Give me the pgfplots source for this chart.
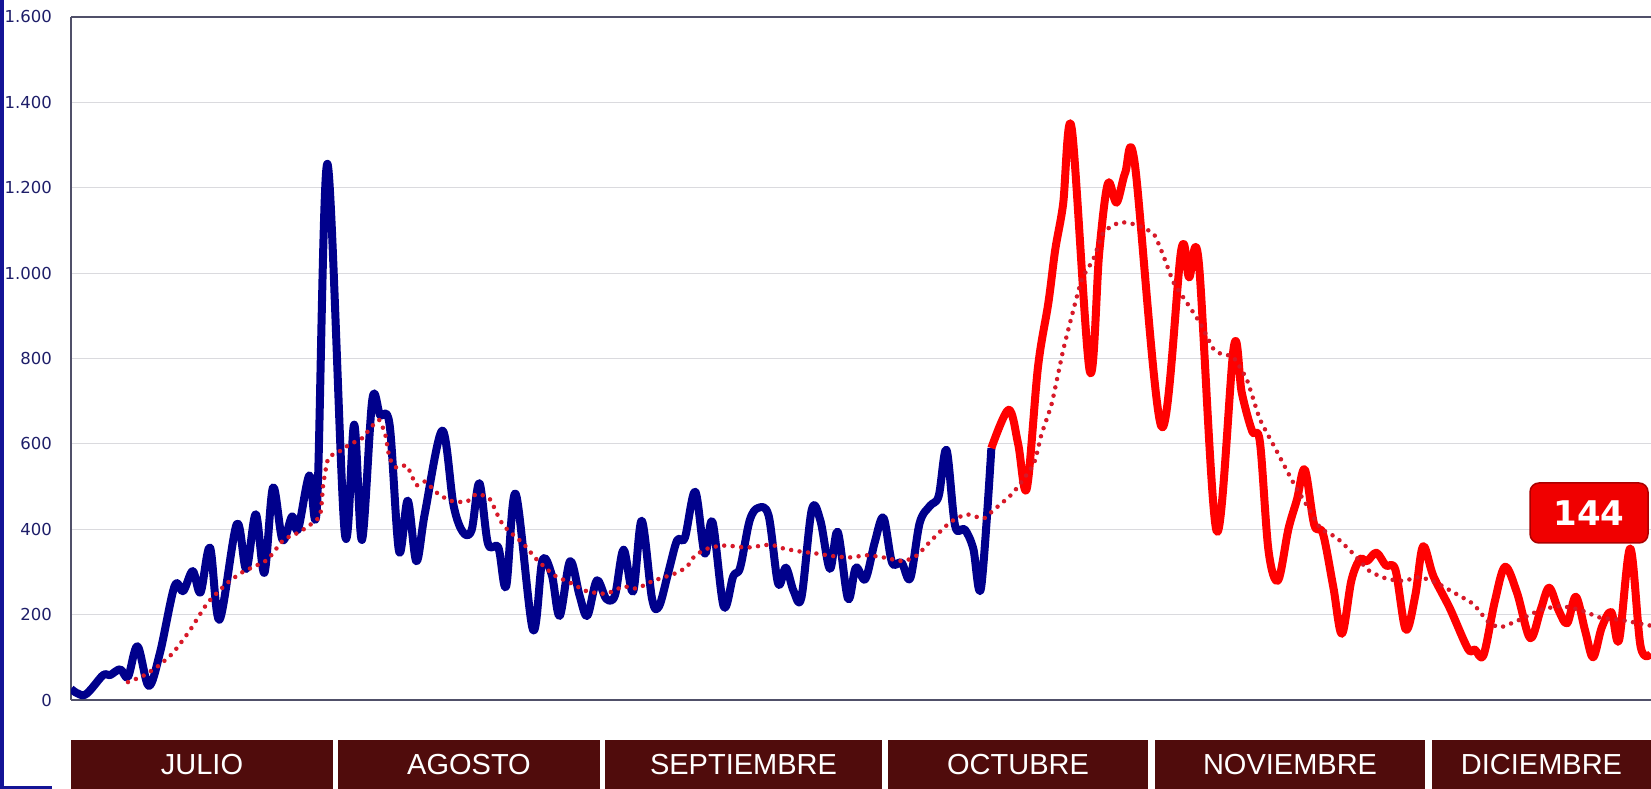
\documentclass[border=0pt]{standalone}
\usepackage{fontspec}
\setmainfont{Liberation Sans}
\newfontfamily\tickfont{DejaVu Sans}
\usepackage{pgfplots}
\pgfplotsset{compat=1.18}
\definecolor{navyline}{RGB}{0,0,140}
\definecolor{redline}{RGB}{255,0,0}
\definecolor{dotred}{RGB}{215,25,40}
\definecolor{gridgray}{RGB}{218,218,222}
\definecolor{ticknavy}{RGB}{30,30,105}
\definecolor{monthbox}{RGB}{80,12,12}
\definecolor{navybar}{RGB}{20,20,150}
\definecolor{axisgray}{RGB}{80,80,105}
\definecolor{labred}{RGB}{240,0,0}
\definecolor{labdark}{RGB}{170,0,0}
\begin{document}
\begin{tikzpicture}
\path[use as bounding box] (0,0) rectangle (1651pt,789pt);
\begin{axis}[
  at={(71pt,89pt)}, anchor=south west,
  scale only axis, width=1580pt, height=683pt,
  xmin=0, xmax=183, ymin=0, ymax=1600,
  xtick=\empty, ytick={0,200,...,1600},
  ymajorgrids, grid style={draw=gridgray, line width=1.2pt},
  axis x line*=bottom, axis y line*=left,
  axis line style={-, draw=axisgray, line width=1.3pt},
  major tick length=0pt,
  yticklabel style={font=\tickfont\fontsize{16.5}{19}\selectfont, text=ticknavy, anchor=east, inner sep=0pt, xshift=-19pt},
  /pgf/number format/1000 sep={.},
  /pgf/number format/assume math mode=true,
]
% daily cases, July - mid October (blue)
\addplot[navyline, line width=8pt, smooth, tension=0.55, line join=round] coordinates {
(0,26) (1.6,12) (3.7,58) (4.5,58) (5.7,72) (6.6,54) (7.7,126) (9.0,33) (10.3,110) (12.0,267) (13.0,255) (14.1,302) (15.0,252) (16.1,357) (17.2,188) (19.2,412) (20.3,307) (21.4,435) (22.4,298) (23.4,498) (24.5,375) (25.6,430) (26.3,400) (27.6,526) (28.5,457) (29.7,1256) (31.7,393) (32.8,645) (33.7,375) (34.9,704) (35.8,667) (36.9,645) (38.0,348) (39.0,467) (40.0,325) (41.0,439) (43.0,631) (44.3,457) (45.4,393) (46.4,398) (47.3,508) (48.3,366) (49.5,357) (50.4,266) (51.5,483) (53.5,165) (54.6,327) (55.7,292) (56.6,197) (57.8,325) (58.9,245) (59.8,197) (60.9,280) (62.0,237) (63.0,245) (64.0,352) (65.1,254) (66.1,420) (67.3,237) (68.1,219) (69.2,300) (70.2,374) (71.1,380) (72.3,488) (73.4,343) (74.3,417) (75.6,219) (76.7,290) (77.5,310) (78.6,420) (79.6,450) (80.8,432) (81.9,273) (82.8,310) (83.7,255) (84.6,240) (85.8,446) (86.8,420) (87.9,307) (88.8,394) (90.0,237) (90.9,310) (92.0,283) (93.1,370) (94.1,427) (95.1,322) (96.2,322) (97.2,285) (98.3,415) (99.5,455) (100.5,478) (101.4,586) (102.4,408) (103.5,400) (104.5,355) (105.4,262) (106.6,590)
};
% daily cases, mid October - December (red)
\addplot[redline, line width=8pt, smooth, tension=0.55, line join=round] coordinates {
(106.6,590) (108.6,680) (109.7,600) (110.7,495) (112.0,780) (113.2,930) (114.0,1055) (114.9,1160) (115.9,1340) (118.0,770) (119.1,1050) (120.1,1210) (121.1,1165) (122.1,1235) (123.2,1258) (126.3,640) (128.6,1055) (129.5,990) (130.6,1030) (132.7,395) (134.7,830) (135.6,720) (136.8,630) (137.7,605) (138.7,350) (139.8,280) (141.0,400) (142.0,470) (142.9,540) (144.0,410) (145.0,390) (146.2,265) (147.2,155) (148.3,280) (149.3,330) (150.1,325) (151.2,345) (152.3,315) (153.4,305) (154.6,165) (155.7,245) (156.6,360) (157.8,290) (159.7,215) (161.8,120) (162.6,118) (163.6,105) (164.9,230) (166.1,312) (167.5,250) (169.0,145) (170.2,210) (171.2,263) (172.3,210) (173.3,180) (174.3,242) (175.4,160) (176.3,100) (177.3,170) (178.4,206) (179.3,140) (180.6,355) (181.8,125) (183,108)
};
% moving average (dotted)
\addplot[dotred, line width=4.5pt, line cap=round, dash pattern=on 0pt off 8.5pt, smooth, tension=0.3] coordinates {
(6.6,42) (8.3,56) (10.0,78) (11.8,110) (13.8,164) (15.8,227) (18.1,274) (19.9,300) (22.7,328) (24.6,375) (26.5,394) (28.8,430) (29.2,503) (29.8,567) (31.0,581) (32.3,599) (33.7,613) (34.8,640) (35.7,656) (36.4,622) (36.9,567) (37.7,544) (38.9,549) (40.0,503) (41.0,512) (42.4,485) (43.9,467) (45.8,464) (47.0,483) (48.5,471) (49.7,421) (50.6,398) (52.4,366) (53.9,330) (55.9,293) (57.8,275) (59.7,255) (62.0,249) (64.0,266) (65.5,261) (67.4,279) (69.8,295) (71.3,311) (72.3,339) (74.0,357) (75.9,362) (78.3,357) (81.0,364) (82.5,355) (84.4,348) (86.4,343) (88.3,337) (90.2,334) (92.2,339) (94.1,334) (96.4,325) (98.0,339) (99.5,371) (101.8,416) (103.7,435) (105.7,425) (106.8,444) (109.1,485) (111.5,553) (112.4,622) (113.6,695) (114.9,818) (116.1,914) (117.1,987) (118.4,1032) (119.6,1096) (121.5,1119) (123.4,1113) (125.4,1092) (126.5,1042) (127.7,978) (129.2,932) (130.8,882) (132.3,823) (133.4,809) (134.6,804) (136.2,750) (137.7,658) (139.6,585) (141.6,508) (143.1,457) (144.7,403) (146.6,380) (148.5,343) (150.4,302) (152.4,284) (154.3,279) (156.2,288) (158.1,275) (159.7,257) (162.4,225) (164.1,184) (165.5,170) (167.8,188) (170.2,211) (172.5,220) (174.8,211) (177.1,193) (179.4,188) (183,174)
};
\end{axis}
% top border of plot area
\draw[axisgray, line width=1.3pt] (71pt,772pt) -- (1651pt,772pt);
% left decoration bar
\fill[navybar] (0,0) rectangle (3.5pt,789pt);
\fill[navybar] (0,0) rectangle (52pt,2.5pt);
% month boxes
\foreach \a/\b/\t in {71/333/JULIO, 338/600/AGOSTO, 605/882/SEPTIEMBRE, 888/1148/OCTUBRE, 1155/1425/NOVIEMBRE, 1432/1651/DICIEMBRE}{
  \fill[monthbox] (\a pt,0) rectangle (\b pt,49pt);
  \node[text=white, font=\fontsize{29}{32}\selectfont, inner sep=0pt] at ({(\a+\b)/2*1pt},24pt) {\t};
}
% last value label
\node[fill=labred, draw=labdark, line width=1.5pt, rounded corners=9pt, minimum width=118pt, minimum height=60pt, text=white, font=\tickfont\bfseries\fontsize{34}{36}\selectfont] at (1589pt,276pt) {144};
\end{tikzpicture}
\end{document}
